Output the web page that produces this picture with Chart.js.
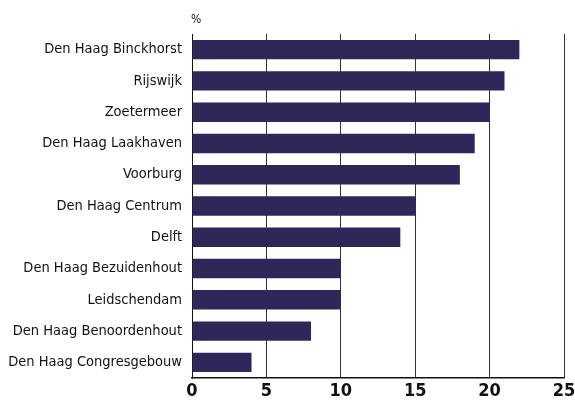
<!DOCTYPE html>
<html>
<head>
<meta charset="utf-8">
<script src="https://cdn.jsdelivr.net/npm/chart.js@4/dist/chart.umd.min.js"></script>
<style>
  html, body { margin: 0; padding: 0; background: #fff; }
  #wrap { width: 575px; height: 403px; }
</style>
</head>
<body>
<div id="wrap"><canvas id="c"></canvas></div>
<script>
const locations = [
  'Den Haag Binckhorst',
  'Rijswijk',
  'Zoetermeer',
  'Den Haag Laakhaven',
  'Voorburg',
  'Den Haag Centrum',
  'Delft',
  'Den Haag Bezuidenhout',
  'Leidschendam',
  'Den Haag Benoordenhout',
  'Den Haag Congresgebouw',
];
const shares = [22, 21, 20, 19, 18, 15, 14, 10, 10, 8, 4];
const xTicks = [0, 5, 10, 15, 20, 25];
const unitLabel = '%';

const fontFamily = "'DejaVu Sans Condensed', 'DejaVu Sans', sans-serif";
const ink = '#111111';
const barColor = '#2d2859';

// small "%" above the value axis
const unitPlugin = {
  id: 'unitLabel',
  afterDraw(chart) {
    const { ctx, chartArea } = chart;
    ctx.save();
    ctx.fillStyle = ink;
    ctx.font = `condensed 12px ${fontFamily}`;
    ctx.textAlign = 'left';
    ctx.textBaseline = 'bottom';
    ctx.fillText(unitLabel, chartArea.left - 1, chartArea.top - 8);
    ctx.restore();
  },
};

new Chart(document.getElementById('c'), {
  type: 'bar',
  data: {
    labels: locations,
    datasets: [{
      data: shares,
      backgroundColor: barColor,
      borderWidth: 0,
      barPercentage: 0.62,
      categoryPercentage: 1,
    }],
  },
  options: {
    indexAxis: 'y',
    responsive: true,
    maintainAspectRatio: false,
    animation: false,
    layout: { padding: { top: 34, right: 11, left: 0, bottom: 0 } },
    plugins: {
      legend: { display: false },
      tooltip: { enabled: false },
    },
    scales: {
      x: {
        min: 0,
        max: 25,
        afterBuildTicks(scale) {
          scale.ticks = xTicks.map((v) => ({ value: v }));
        },
        afterFit(scale) {
          scale.height = 25;
          scale.paddingLeft = 0;
          scale.paddingRight = 0;
        },
        grid: {
          color: (c) => (c.tick && c.tick.value === 0 ? ink : '#333333'),
          lineWidth: 1,
          drawTicks: false,
        },
        border: { display: true, color: ink, width: 1.5 },
        ticks: {
          color: ink,
          padding: 3,
          font: { family: fontFamily, size: 18, style: 'condensed', weight: 'bold' },
        },
      },
      y: {
        afterFit(scale) {
          scale.width = 192;
          scale.paddingTop = 0;
          scale.paddingBottom = 0;
        },
        grid: { display: false, drawTicks: false },
        border: { display: true, color: ink, width: 1 },
        ticks: {
          color: ink,
          padding: 10,
          font: { family: fontFamily, size: 14.5, style: 'condensed' },
        },
      },
    },
  },
  plugins: [unitPlugin],
});
</script>
</body>
</html>
